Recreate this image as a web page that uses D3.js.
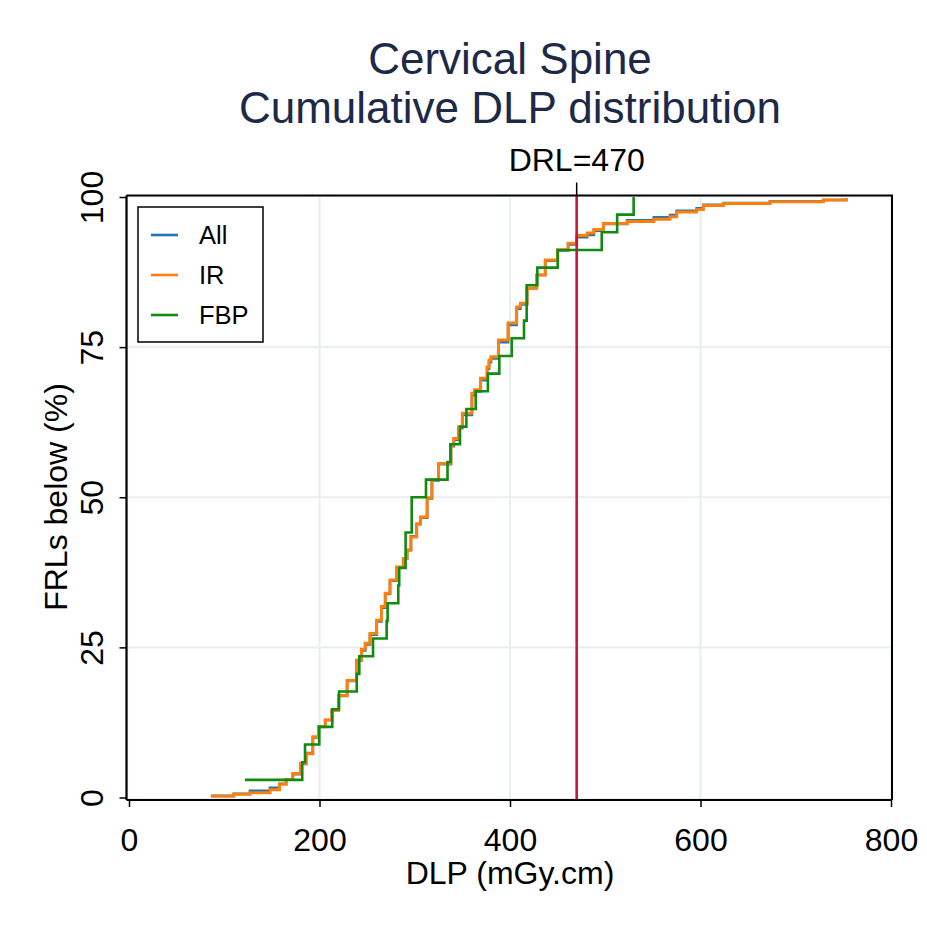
<!DOCTYPE html>
<html><head><meta charset="utf-8">
<script src="https://cdn.jsdelivr.net/npm/d3@7"></script>
<style>html,body{margin:0;padding:0;background:#fff;}svg{display:block;font-family:"Liberation Sans",Arial,sans-serif;}</style>
</head><body>
<svg id="c" width="927" height="927"></svg>
<script>
// ---- data ----
const titleLines = ["Cervical Spine", "Cumulative DLP distribution"];
const xTicks = [0, 200, 400, 600, 800];
const yTicks = [0, 25, 50, 75, 100];
const drlValue = 470;
const seriesNames = ["All", "IR", "FBP"];
const seriesColors = ["#1f77b4", "#ff7f0e", "#108a10"];

const irDLP = [86,110,127,148,158,165,172,180,186,193,199,206,213,220,229,239,244,248,253,260,265,269,274,281,288,292,296,302,306,313,318,325,338,341,346,350,360,363,369,376,378,380,388,398,407,411,418,428,437,450,461,470,481,488,498,523,551,568,575,596,603,624,673,729,753];
const irPct = [0.2,0.55,0.8,1.3,2.2,3.0,4.0,5.7,7.3,10.1,11.8,12.9,14.5,17.0,19.5,22.9,24.7,25.7,27.3,29.5,31.8,34.0,36.2,38.4,39.8,41.2,43.4,45.6,46.7,49.9,52.9,55.6,58.7,59.8,61.7,64.0,67.3,67.9,69.8,71.7,72.8,73.4,76.2,79.0,81.7,82.3,84.8,87.0,89.5,91.2,92.3,93.6,94.0,94.6,95.6,95.9,96.3,96.7,97.5,97.9,98.6,98.9,99.2,99.5,99.8];

const allDLP = [86,110,127,148,158,165,172,180,186,193,199,206,213,220,229,239,244,248,253,260,265,269,274,281,288,292,296,302,306,313,318,325,338,341,346,350,360,363,369,376,378,380,388,398,407,411,418,428,437,450,461,470,481,488,498,523,551,568,575,596,603,624,673,729,753];
const allPct = [0.3,0.6,1.1,1.6,2.3,3.0,3.9,5.6,7.4,10.0,11.8,12.9,14.5,16.9,19.4,22.8,24.5,25.5,27.1,29.3,31.6,33.9,36.1,38.3,39.8,41.2,43.5,45.5,46.6,49.8,52.8,55.5,58.5,59.6,61.5,63.7,67.0,67.6,69.5,71.4,72.5,73.1,75.8,78.7,81.4,82.1,84.8,87.0,89.4,91.1,92.1,93.3,93.7,94.4,95.5,96.1,96.6,97.0,97.7,98.1,98.7,99.0,99.3,99.5,99.8];

// FBP: 34 observations, each step = 1/34
const fbpDLP = [121.8,181.9,184.8,199.8,213.4,220.5,239.1,241.8,256.2,270.5,271.5,282.7,283.7,290.4,290.4,296.8,296.8,311.8,334.4,337.5,347.5,354.2,364.0,376.8,388.8,401.8,414.7,417.5,417.5,428.7,450.1,496.3,512.5,529.8];

// ---- layout ----
const svg = d3.select("#c");
const x = d3.scaleLinear().domain([0, 800]).range([129, 891]);
const y = d3.scaleLinear().domain([0, 100]).range([797.5, 197]);
const frame = {l: 126.5, t: 195.5, r: 892, b: 800};
const gridColor = "#e8eff1";
const font = '"Liberation Sans", Arial, sans-serif';
const labelSize = 32;

svg.append("rect").attr("x", frame.l + 1).attr("y", frame.t + 1)
  .attr("width", frame.r - frame.l - 2).attr("height", frame.b - frame.t - 2)
  .attr("fill", "#fff").attr("stroke", gridColor).attr("stroke-width", 1.5);

// gridlines
svg.append("g").selectAll("line").data(xTicks.filter(d => d > 0 && d < 800)).join("line")
  .attr("x1", d => x(d)).attr("x2", d => x(d)).attr("y1", frame.t).attr("y2", frame.b)
  .attr("stroke", gridColor).attr("stroke-width", 2.2);
svg.append("g").selectAll("line").data(yTicks.filter(d => d > 0 && d < 100)).join("line")
  .attr("x1", frame.l).attr("x2", frame.r).attr("y1", d => y(d)).attr("y2", d => y(d))
  .attr("stroke", gridColor).attr("stroke-width", 2.2);

// series
const lineGen = d3.line().x(d => x(d[0])).y(d => y(d[1])).curve(d3.curveStepAfter);
const allData = allDLP.map((v, i) => [v, allPct[i]]);
const irData = irDLP.map((v, i) => [v, irPct[i]]);
const fbpData = fbpDLP.map((v, i) => [v, (i + 1) / fbpDLP.length * 100]);

svg.append("path").datum(allData).attr("d", lineGen).attr("fill", "none")
  .attr("stroke", seriesColors[0]).attr("stroke-width", 2.6);
svg.append("path").datum(irData).attr("d", lineGen).attr("fill", "none")
  .attr("stroke", seriesColors[1]).attr("stroke-width", 3);
svg.append("path").datum(fbpData).attr("d", lineGen).attr("fill", "none")
  .attr("stroke", seriesColors[2]).attr("stroke-width", 2.6);

// DRL line
svg.append("line").attr("x1", x(drlValue)).attr("x2", x(drlValue))
  .attr("y1", frame.t).attr("y2", frame.b)
  .attr("stroke", "#c8163f").attr("stroke-width", 2.6);
svg.append("line").attr("x1", x(drlValue)).attr("x2", x(drlValue))
  .attr("y1", frame.t - 13).attr("y2", frame.t)
  .attr("stroke", "#000").attr("stroke-width", 1.5);
svg.append("text").attr("x", x(drlValue)).attr("y", 171).attr("text-anchor", "middle")
  .attr("font-size", labelSize).attr("fill", "#000").text("DRL=" + drlValue);

// frame (top/right)
svg.append("path").attr("d", `M${frame.l},${frame.t}H${frame.r}V${frame.b}`)
  .attr("fill", "none").attr("stroke", "#000").attr("stroke-width", 2);

// axes
const xAxis = d3.axisBottom(x).tickValues(xTicks).tickSize(7).tickPadding(8);
const gx = svg.append("g").attr("transform", `translate(0,${frame.b})`).call(xAxis);
gx.select(".domain").attr("d", `M${frame.l},0H${frame.r}`).attr("stroke-width", 2.2);
gx.selectAll(".tick line").attr("stroke-width", 1.5);
gx.selectAll("text").attr("font-size", labelSize).attr("font-family", font).attr("fill", "#000")
  .attr("dy", null).attr("y", 51);

const yAxis = d3.axisLeft(y).tickValues(yTicks).tickSize(7);
const gy = svg.append("g").attr("transform", `translate(${frame.l},0)`).call(yAxis);
gy.select(".domain").attr("d", `M0,${frame.t}V${frame.b}`).attr("stroke-width", 2.2);
gy.selectAll(".tick line").attr("stroke-width", 1.5);
gy.selectAll("text").attr("font-size", labelSize).attr("font-family", font).attr("fill", "#000")
  .attr("x", null).attr("dy", null).attr("text-anchor", "middle")
  .attr("transform", "translate(-24,0) rotate(-90)");

// axis titles
svg.append("text").attr("x", 510).attr("y", 884).attr("text-anchor", "middle")
  .attr("font-size", labelSize).attr("fill", "#000").text("DLP (mGy.cm)");
svg.append("text").attr("transform", "translate(67,497) rotate(-90)").attr("text-anchor", "middle")
  .attr("font-size", labelSize).attr("fill", "#000").text("FRLs below (%)");

// title
svg.append("g").selectAll("text").data(titleLines).join("text")
  .attr("x", 510).attr("y", (d, i) => 74 + i * 49).attr("text-anchor", "middle")
  .attr("font-size", 44).attr("fill", "#1c2a48").text(d => d);

// legend
const lg = svg.append("g");
lg.append("rect").attr("x", 138).attr("y", 207).attr("width", 125).attr("height", 135)
  .attr("fill", "#fff").attr("stroke", "#000").attr("stroke-width", 1.5);
seriesNames.forEach((n, i) => {
  const yy = 235 + i * 40;
  lg.append("line").attr("x1", 151).attr("x2", 178).attr("y1", yy).attr("y2", yy)
    .attr("stroke", seriesColors[i]).attr("stroke-width", 2.6);
  lg.append("text").attr("x", 199).attr("y", yy + 9).attr("font-size", 25.5)
    .attr("fill", "#000").text(n);
});
</script>
</body></html>
